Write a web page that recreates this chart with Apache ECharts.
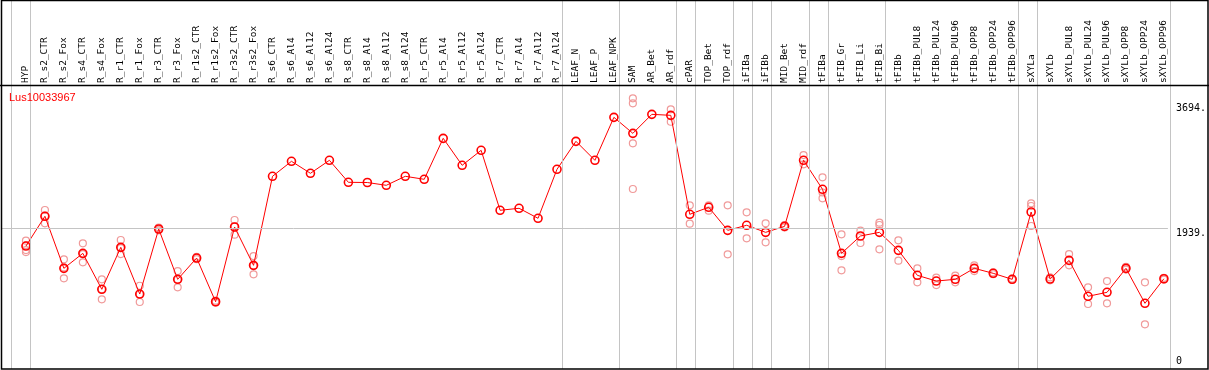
<!DOCTYPE html>
<html><head><meta charset="utf-8">
<script src="https://cdn.jsdelivr.net/npm/echarts@6/dist/echarts.min.js"></script>
<style>html,body{margin:0;padding:0;background:#fff}#c{width:1209px;height:370px}</style>
</head><body><div id="c"></div>
<script>
const geneLabel = 'Lus10033967';
const categories = ['HYP','R_s2_CTR','R_s2_Fox','R_s4_CTR','R_s4_Fox','R_r1_CTR','R_r1_Fox','R_r3_CTR','R_r3_Fox','R_r1s2_CTR','R_r1s2_Fox','R_r3s2_CTR','R_r3s2_Fox','R_s6_CTR','R_s6_Al4','R_s6_Al12','R_s6_Al24','R_s8_CTR','R_s8_Al4','R_s8_Al12','R_s8_Al24','R_r5_CTR','R_r5_Al4','R_r5_Al12','R_r5_Al24','R_r7_CTR','R_r7_Al4','R_r7_Al12','R_r7_Al24','LEAF_N','LEAF_P','LEAF_NPK','SAM','AR_Bet','AR_rdf','cPAR','TOP_Bet','TOP_rdf','iFIBa','iFIBb','MID_Bet','MID_rdf','tFIBa','tFIB_Gr','tFIB_Li','tFIB_Bi','tFIBb','tFIBb_PUL8','tFIBb_PUL24','tFIBb_PUL96','tFIBb_OPP8','tFIBb_OPP24','tFIBb_OPP96','sXYLa','sXYLb','sXYLb_PUL8','sXYLb_PUL24','sXYLb_PUL96','sXYLb_OPP8','sXYLb_OPP24','sXYLb_OPP96'];
const meanValues = [1690,2107,1378,1588,1084,1672,1018,1929,1224,1522,910,1957,1420,2667,2877,2709,2891,2583,2580,2541,2667,2625,3199,2821,3031,2191,2219,2079,2765,3157,2891,3493,3269,3535,3521,2135,2233,1910,1981,1882,1966,2891,2485,1588,1831,1882,1630,1280,1200,1224,1378,1308,1224,2167,1228,1490,986,1042,1378,888,1232];
const rep1 = [1765,2195,1504,1728,1224,1775,1134,1950,1340,1540,925,2055,1550,null,null,null,null,null,null,null,null,null,null,null,null,null,null,null,null,null,null,null,3759,null,3605,2261,2260,2261,2163,2008,1985,2965,2653,1854,1905,2017,1770,1378,1247,1275,1420,1320,1235,2289,1250,1578,1112,1200,1400,1182,1245];
const rep2 = [1700,2008,1238,1462,944,1578,906,1910,1112,1505,898,1849,1294,null,null,null,null,null,null,null,null,null,null,null,null,null,null,null,null,null,null,null,3689,null,3431,2003,2185,1574,1798,1742,1950,2835,2359,1350,1733,1985,1485,1182,1144,1182,1340,1295,1215,2251,1210,1420,878,888,1360,594,1220];
const rep3 = [1634,2115,1390,1575,1085,1660,1015,1925,1220,1520,908,1965,1415,null,null,null,null,null,null,null,null,null,null,null,null,null,null,null,null,null,null,null,3129,null,null,null,null,null,null,null,null,null,2440,1550,null,1644,null,null,null,null,null,null,null,1971,null,null,null,null,null,null,null];
const rep4 = [1606,null,null,null,null,null,null,null,null,null,null,null,null,null,null,null,null,null,null,null,null,null,null,null,null,null,null,null,null,null,null,null,2489,null,null,null,null,null,null,null,null,null,null,null,null,null,null,null,null,null,null,null,null,null,null,null,null,null,null,null,null];
const yTickValues = [1939, 3694];
const yZeroTick = [0];
const refLineValue = 1939;
const groupStarts = ['HYP','R_s2_CTR','LEAF_N','SAM','cPAR','TOP_Bet','iFIBa','iFIBb','MID_Bet','tFIBa','tFIB_Gr','tFIBb','sXYLa','sXYLb'];

const XMIN = -1.2632, XMAX = 60.2105, YMAX = 3946;
const SEP_OFFSET = 15 / 19;
const sepValues = groupStarts.map(n => categories.indexOf(n) - SEP_OFFSET).concat([categories.length - SEP_OFFSET]);

const repData = [];
[rep1, rep2, rep3, rep4].forEach(arr => arr.forEach((v, i) => { if (v != null) repData.push([i, v]); }));
const mainData = meanValues.map((v, i) => [i, v]);
const mono = 'DejaVu Sans Mono';

const chart = echarts.init(document.getElementById('c'), null, {renderer: 'canvas'});
chart.setOption({
  animation: false,
  backgroundColor: '#fff',
  title: {text: geneLabel, left: 9, top: 92, padding: 0,
    textStyle: {color: '#f00', fontSize: 11, fontWeight: 'normal', fontFamily: 'Liberation Sans'}},
  grid: [
    {left: 2, right: 39, top: 85, bottom: 3.3},
    {left: 2, right: 39, top: 0, bottom: 1}
  ],
  xAxis: [
    {gridIndex: 0, type: 'value', min: XMIN, max: XMAX, position: 'top',
      axisLine: {show: false}, axisTick: {show: false}, splitLine: {show: false},
      axisLabel: {customValues: categories.map((c, i) => i), rotate: 90, margin: 2,
        fontFamily: mono, fontSize: 9.5, color: '#000',
        formatter: v => categories[Math.round(v)] || ''}},
    {gridIndex: 1, type: 'value', min: XMIN, max: XMAX, show: false}
  ],
  yAxis: [
    {gridIndex: 0, type: 'value', min: 0, max: YMAX, position: 'right',
      axisLine: {show: false}, axisTick: {show: false}, splitLine: {show: false},
      axisLabel: {customValues: yTickValues, margin: 8, verticalAlign: 'top',
        fontFamily: mono, fontSize: 10, color: '#000', formatter: v => v + '.'}},
    {gridIndex: 0, type: 'value', min: 0, max: YMAX, position: 'right',
      axisLine: {show: false}, axisTick: {show: false}, splitLine: {show: false},
      axisLabel: {customValues: yZeroTick, margin: 8, verticalAlign: 'bottom',
        fontFamily: mono, fontSize: 10, color: '#000', formatter: v => String(v)}},
    {gridIndex: 1, type: 'value', min: 0, max: 1, show: false}
  ],
  graphic: [
    {type: 'rect', z: 100, silent: true, shape: {x: 1.5, y: 0.5, width: 1206.5, height: 368.5},
      style: {fill: 'none', stroke: '#000', lineWidth: 1.5}},
    {type: 'line', z: 100, silent: true, shape: {x1: 0, y1: 85.5, x2: 1209, y2: 85.5},
      style: {stroke: '#000', lineWidth: 1.5}}
  ],
  series: [
    {type: 'line', xAxisIndex: 1, yAxisIndex: 2, data: [], silent: true, showSymbol: false, z: 1,
      markLine: {silent: true, symbol: ['none', 'none'], label: {show: false},
        lineStyle: {color: '#c4c4c4', width: 1, type: 'solid'}, animation: false,
        data: sepValues.map(v => ({xAxis: v}))}},
    {type: 'scatter', xAxisIndex: 0, yAxisIndex: 0, data: repData, z: 2, silent: true,
      symbol: 'circle', symbolSize: 7,
      itemStyle: {color: 'rgba(0,0,0,0)', borderColor: '#f09a9a', borderWidth: 1.2, opacity: 1}},
    {type: 'line', xAxisIndex: 0, yAxisIndex: 0, data: mainData, z: 3, silent: true,
      symbol: 'circle', symbolSize: 8, showAllSymbol: true,
      lineStyle: {color: '#f00', width: 1},
      itemStyle: {color: 'rgba(0,0,0,0)', borderColor: '#f00', borderWidth: 1.6},
      markLine: {silent: true, symbol: ['none', 'none'], label: {show: false},
        lineStyle: {color: '#c4c4c4', width: 1, type: 'solid'}, animation: false,
        data: [{yAxis: refLineValue}]}}
  ]
});
</script></body></html>
